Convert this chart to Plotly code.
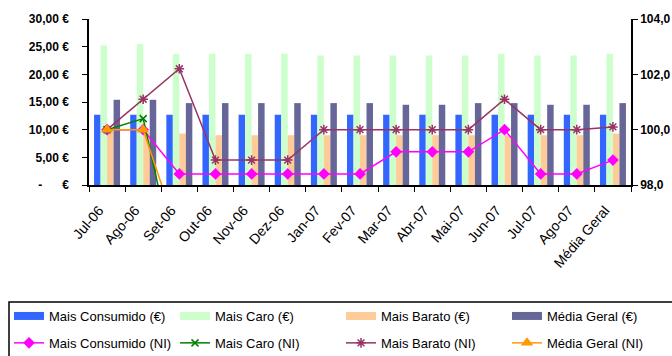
import plotly.graph_objects as go

# Monthly categories plus the overall average
categories = ["Jul-06", "Ago-06", "Set-06", "Out-06", "Nov-06", "Dez-06", "Jan-07",
              "Fev-07", "Mar-07", "Abr-07", "Mai-07", "Jun-07", "Jul-07", "Ago-07",
              "Média Geral"]

# Prices in euros (left axis)
mais_consumido_eur = [12.7, 12.7, 12.7, 12.7, 12.7, 12.7, 12.7, 12.7, 12.7, 12.7, 12.7, 12.7, 12.7, 12.7, 12.7]
mais_caro_eur = [25.2, 25.5, 23.7, 23.7, 23.7, 23.7, 23.4, 23.4, 23.4, 23.4, 23.4, 23.7, 23.4, 23.4, 23.7]
mais_barato_eur = [9.5, 9.4, 9.3, 9.0, 9.0, 9.0, 9.0, 9.0, 9.0, 9.0, 9.0, 9.0, 9.0, 9.0, 9.3]
media_geral_eur = [15.4, 15.4, 14.8, 14.8, 14.8, 14.8, 14.8, 14.8, 14.5, 14.5, 14.8, 14.8, 14.5, 14.5, 14.8]

# Index numbers (right axis)
mais_consumido_ni = [100.0, 100.0, 98.4, 98.4, 98.4, 98.4, 98.4, 98.4, 99.2, 99.2, 99.2, 100.0, 98.4, 98.4, 98.9]
mais_caro_ni = [100.0, 100.4, 94.5, None, None, None, None, None, None, None, None, None, None, None, None]
mais_barato_ni = [100.0, 101.1, 102.2, 98.9, 98.9, 98.9, 100.0, 100.0, 100.0, 100.0, 100.0, 101.1, 100.0, 100.0, 100.1]
media_geral_ni = [100.0, 100.0, 96.1, None, None, None, None, None, None, None, None, None, None, None, None]

# Left axis tick labels
eur_ticks = [0, 5, 10, 15, 20, 25, 30]
eur_tick_text = ["-\u00a0\u00a0\u00a0\u00a0\u00a0\u00a0€", "5,00 €", "10,00 €", "15,00 €",
                 "20,00 €", "25,00 €", "30,00 €"]

FONT = "Liberation Sans, Arial, sans-serif"

bar_series = [
    ("Mais Consumido (€)", mais_consumido_eur, "#3366FF"),
    ("Mais Caro (€)", mais_caro_eur, "#CCFFCC"),
    ("Mais Barato (€)", mais_barato_eur, "#FFCC99"),
    ("Média Geral (€)", media_geral_eur, "#666699"),
]

line_series = [
    ("Mais Consumido (NI)", mais_consumido_ni, "#FF00FF",
     dict(symbol="diamond", size=9, color="#FF00FF")),
    ("Mais Caro (NI)", mais_caro_ni, "#008000",
     dict(symbol="x-thin-open", size=7, color="#008000", line=dict(color="#008000", width=1.5))),
    ("Mais Barato (NI)", mais_barato_ni, "#993366",
     dict(symbol="asterisk-open", size=8, color="#993366", line=dict(color="#993366", width=1.5))),
    ("Média Geral (NI)", media_geral_ni, "#FF9900",
     dict(symbol="triangle-up", size=11, color="#FF9900")),
]

# one legend per column: the euro swatch above the index line
legend_names = ["legend", "legend2", "legend3", "legend4"]
legend_x = [9, 175, 341, 507]

fig = go.Figure()

for i, (name, values, color) in enumerate(bar_series):
    fig.add_trace(go.Bar(
        x=categories, y=values, name=name, marker=dict(color=color, line=dict(width=0)),
        legendgroup=name, showlegend=False, yaxis="y",
    ))
    # wide swatch shown in the legend for each bar series
    fig.add_trace(go.Scatter(
        x=[None], y=[None], mode="lines", name=name, legendgroup=name,
        line=dict(color=color, width=8), showlegend=True, legend=legend_names[i],
        hoverinfo="skip",
    ))

for i, (name, values, color, marker) in enumerate(line_series):
    fig.add_trace(go.Scatter(
        x=categories, y=values, name=name, mode="lines+markers", legendgroup=name,
        line=dict(color=color, width=1.5), marker=marker, yaxis="y2",
        legend=legend_names[i], connectgaps=False,
    ))

legends = {}
for key, lx in zip(legend_names, legend_x):
    legends[key] = dict(
        orientation="v", xref="container", yref="container", xanchor="left", yanchor="top",
        x=lx / 672, y=1 - 301 / 356, itemwidth=30, tracegroupgap=7,
        font=dict(family=FONT, size=13, color="#000000"), bgcolor="rgba(0,0,0,0)",
        borderwidth=0, traceorder="grouped", itemclick=False, itemdoubleclick=False,
    )

# frame drawn around the legend block
px_x = lambda px: (px - 89) / 542
px_y = lambda py: (185 - py) / 166

fig.update_layout(
    width=672, height=356, autosize=False,
    margin=dict(l=89, r=41, t=19, b=171, pad=0, autoexpand=False),
    paper_bgcolor="#FFFFFF", plot_bgcolor="#FFFFFF",
    separators=",.",
    barmode="group", bargap=0.28, bargroupgap=0,
    font=dict(family=FONT, size=11, color="#000000"),
    showlegend=True,
    **legends,
    xaxis=dict(
        type="category", categoryorder="array", categoryarray=categories,
        range=[-0.5, len(categories) - 0.5], automargin=False,
        tickson="boundaries", ticks="outside", ticklen=5, tickcolor="#000000", tickwidth=1,
        showline=True, linecolor="#000000", linewidth=1.5, showgrid=False, zeroline=False,
        tickangle=-49, ticklabelstandoff=10, ticklabelshift=-8,
        tickfont=dict(family=FONT, size=14, color="#000000"),
    ),
    yaxis=dict(
        range=[0, 30], tickvals=eur_ticks, ticktext=eur_tick_text, automargin=False,
        ticks="outside", ticklen=5, tickcolor="#000000", tickwidth=1,
        showline=True, linecolor="#000000", linewidth=1.5, showgrid=False, zeroline=False,
        ticklabelstandoff=11,
        tickfont=dict(family=FONT, size=12, color="#000000", weight="bold"),
    ),
    yaxis2=dict(
        overlaying="y", side="right", range=[98, 104], tickvals=[98, 100, 102, 104],
        tickformat=".1f", ticks="outside", ticklen=5, tickcolor="#000000", tickwidth=1,
        showline=True, linecolor="#000000", linewidth=1.5, showgrid=False, zeroline=False,
        ticklabelstandoff=0, automargin=False,
        tickfont=dict(family=FONT, size=12, color="#000000", weight="bold"),
    ),
    shapes=[dict(
        type="rect", xref="paper", yref="paper",
        x0=px_x(9), x1=px_x(720), y0=px_y(302), y1=px_y(400),
        line=dict(color="#000000", width=1.5), fillcolor="rgba(0,0,0,0)", layer="above",
    )],
)

fig.write_html("out.html")
